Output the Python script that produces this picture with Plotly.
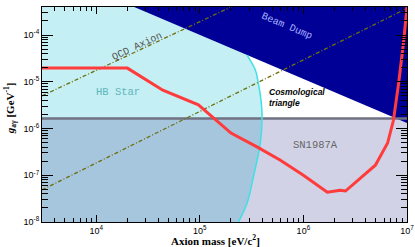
import numpy as np
import plotly.graph_objects as go

# ---------------- data ----------------
X_MIN, X_MAX = 3000.0, 1.0e7
Y_MIN, Y_MAX = 1.0e-8, 10 ** -3.4

# red limit curve
red_m = [3000, 2.0e4, 4.4e4, 9.7e4, 2.0e5, 3.6e5, 6.0e5, 1.0e6, 1.7e6, 2.27e6,
         2.55e6, 4.95e6, 6.5e6, 7.4e6, 8.3e6, 9.25e6, 1.0e7]
red_g = [1.96e-5, 1.96e-5, 6.6e-6, 3.2e-6, 8.0e-7, 4.0e-7, 2.1e-7, 1.0e-7, 4.35e-8,
         4.8e-8, 4.6e-8, 1.64e-7, 4.9e-7, 1.5e-6, 9.3e-6, 6.8e-5, 4.0e-4]

# HB star boundary (cyan curve)
hb_m = [2.86e5, 3.44e5, 3.67e5, 3.90e5, 3.99e5, 3.84e5, 3.29e5, 2.86e5, 2.36e5]
hb_g = [3.73e-5, 1.78e-5, 9.4e-6, 4.06e-6, 1.94e-6, 4.86e-7, 9.1e-8, 2.52e-8, 1.0e-8]

# SN1987A upper edge
sn_g = 1.64e-6

# Beam dump lower edge
bd_m = [2.33e4, 1.0e7]
bd_g = [Y_MAX, 1.31e-6]

# QCD axion band lines
qcd_hi_m = [3000, 2.01e5]
qcd_hi_g = [5.0e-6, 4.0e-4]
qcd_lo_m = [3000, 1.0e7]
qcd_lo_g = [4.86e-8, 3.73e-4]

x_ticks = [1e4, 1e5, 1e6, 1e7]
x_ticktext = ["10<sup>4</sup>", "10<sup>5</sup>", "10<sup>6</sup>", "10<sup>7</sup>"]
y_ticks = [1e-8, 1e-7, 1e-6, 1e-5, 1e-4]
y_ticktext = ["10<sup>-8</sup>", "10<sup>-7</sup>", "10<sup>-6</sup>", "10<sup>-5</sup>", "10<sup>-4</sup>"]

x_minor = [k * 10 ** d for d in range(3, 7) for k in range(2, 10) if X_MIN <= k * 10 ** d <= X_MAX]
y_minor = [k * 10.0 ** d for d in range(-8, -3) for k in range(2, 10) if k * 10.0 ** d <= Y_MAX]

fig = go.Figure()

# HB star region (vertical cyan hatching)
fig.add_trace(go.Scatter(
    x=[X_MIN, X_MIN, hb_m[0]] + hb_m + [X_MIN],
    y=[Y_MIN, Y_MAX, Y_MAX] + hb_g + [Y_MIN],
    mode="none", fill="toself", fillcolor="rgba(0,0,0,0)",
    fillpattern=dict(shape="|", fgcolor="#3ccad8", size=2, solidity=0.6),
    hoverinfo="skip", showlegend=False))

# SN1987A region (horizontal hatching)
fig.add_trace(go.Scatter(
    x=[X_MIN, X_MIN, X_MAX, X_MAX, X_MIN],
    y=[Y_MIN, sn_g, sn_g, Y_MIN, Y_MIN],
    mode="none", fill="toself", fillcolor="rgba(0,0,0,0)",
    fillpattern=dict(shape="-", fgcolor="#464a9c", size=2, solidity=0.62),
    hoverinfo="skip", showlegend=False))

# Beam dump (navy)
fig.add_trace(go.Scatter(
    x=[bd_m[0], bd_m[1], X_MAX, bd_m[0]],
    y=[bd_g[0], bd_g[1], Y_MAX, bd_g[0]],
    mode="none", fill="toself", fillcolor="#000096",
    hoverinfo="skip", showlegend=False))

# SN upper edge line
fig.add_trace(go.Scatter(x=[X_MIN, X_MAX], y=[sn_g, sn_g], mode="lines",
                         line=dict(color="#707282", width=2.5),
                         hoverinfo="skip", showlegend=False))

# HB boundary curve
fig.add_trace(go.Scatter(x=hb_m, y=hb_g, mode="lines",
                         line=dict(color="#3fe0e6", width=1.5, shape="spline"),
                         hoverinfo="skip", showlegend=False))

# QCD axion lines
for mm, gg in [(qcd_hi_m, qcd_hi_g), (qcd_lo_m, qcd_lo_g)]:
    fig.add_trace(go.Scatter(x=mm, y=gg, mode="lines",
                             line=dict(color="#6e6e10", width=1.3, dash="4px,2px,1px,2px"),
                             hoverinfo="skip", showlegend=False))

# red limit
fig.add_trace(go.Scatter(x=red_m, y=red_g, mode="lines",
                         line=dict(color="#ff3b3b", width=3),
                         hoverinfo="skip", showlegend=False))

mono = "Liberation Mono"
fig.add_annotation(x=np.log10(2.49e4), y=-4.236, text="QCD Axion", showarrow=False,
                   textangle=-25, font=dict(family=mono, size=10, color="#555555"))
fig.add_annotation(x=np.log10(1.63e4), y=-5.221, text="HB Star", showarrow=False,
                   font=dict(family=mono, size=10.5, color="#5cb6c0"))
fig.add_annotation(x=np.log10(7.0e5), y=-3.807, text="Beam Dump", showarrow=False,
                   textangle=23, font=dict(family=mono, size=10, color="#a8b0ff"))
fig.add_annotation(x=np.log10(4.49e5), y=-5.328, text="<b><i>Cosmological<br>triangle</i></b>",
                   showarrow=False, xanchor="left", align="left",
                   font=dict(family="Liberation Sans", size=8.5, color="black"))
fig.add_annotation(x=np.log10(1.31e6), y=-6.355, text="SN1987A", showarrow=False,
                   font=dict(family=mono, size=10.5, color="#666666"))

# axis titles
fig.add_annotation(xref="paper", yref="paper", x=0.474, y=-0.084, yanchor="middle",
                   text="<b>Axion mass [eV/c<sup>2</sup>]</b>", showarrow=False,
                   font=dict(family="Liberation Serif", size=11, color="black"))
fig.add_annotation(xref="paper", yref="paper", x=-0.087, y=0.53, xanchor="center",
                   text="<b><i>g</i><sub>aγ</sub> [GeV<sup>-1</sup>]</b>", showarrow=False,
                   textangle=-90,
                   font=dict(family="Liberation Serif", size=11, color="black"))

axis_common = dict(type="log", showgrid=False, zeroline=False, showline=True,
                   linecolor="black", linewidth=1, mirror="ticks", ticks="inside",
                   tickcolor="black", tickmode="array", automargin=False,
                   tickfont=dict(family="Liberation Sans", size=9, color="black"))

fig.update_xaxes(**axis_common, range=[np.log10(X_MIN), np.log10(X_MAX)],
                 tickvals=x_ticks, ticktext=x_ticktext, ticklen=7,
                 minor=dict(ticks="inside", ticklen=4, tickcolor="black",
                            tickmode="array", tickvals=x_minor, showgrid=False))
fig.update_yaxes(**axis_common, range=[-8, -3.4],
                 tickvals=y_ticks, ticktext=y_ticktext, ticklen=11,
                 minor=dict(ticks="inside", ticklen=6, tickcolor="black",
                            tickmode="array", tickvals=y_minor, showgrid=False))

fig.update_layout(width=415, height=247,
                  margin=dict(l=42, r=8, t=7, b=25, autoexpand=False),
                  plot_bgcolor="white", paper_bgcolor="white", showlegend=False)

# remove the browser's default page margin so the figure sits at the window origin
fig.write_html("out.html", config={"displayModeBar": False},
               post_script="document.body.style.margin='0';")
